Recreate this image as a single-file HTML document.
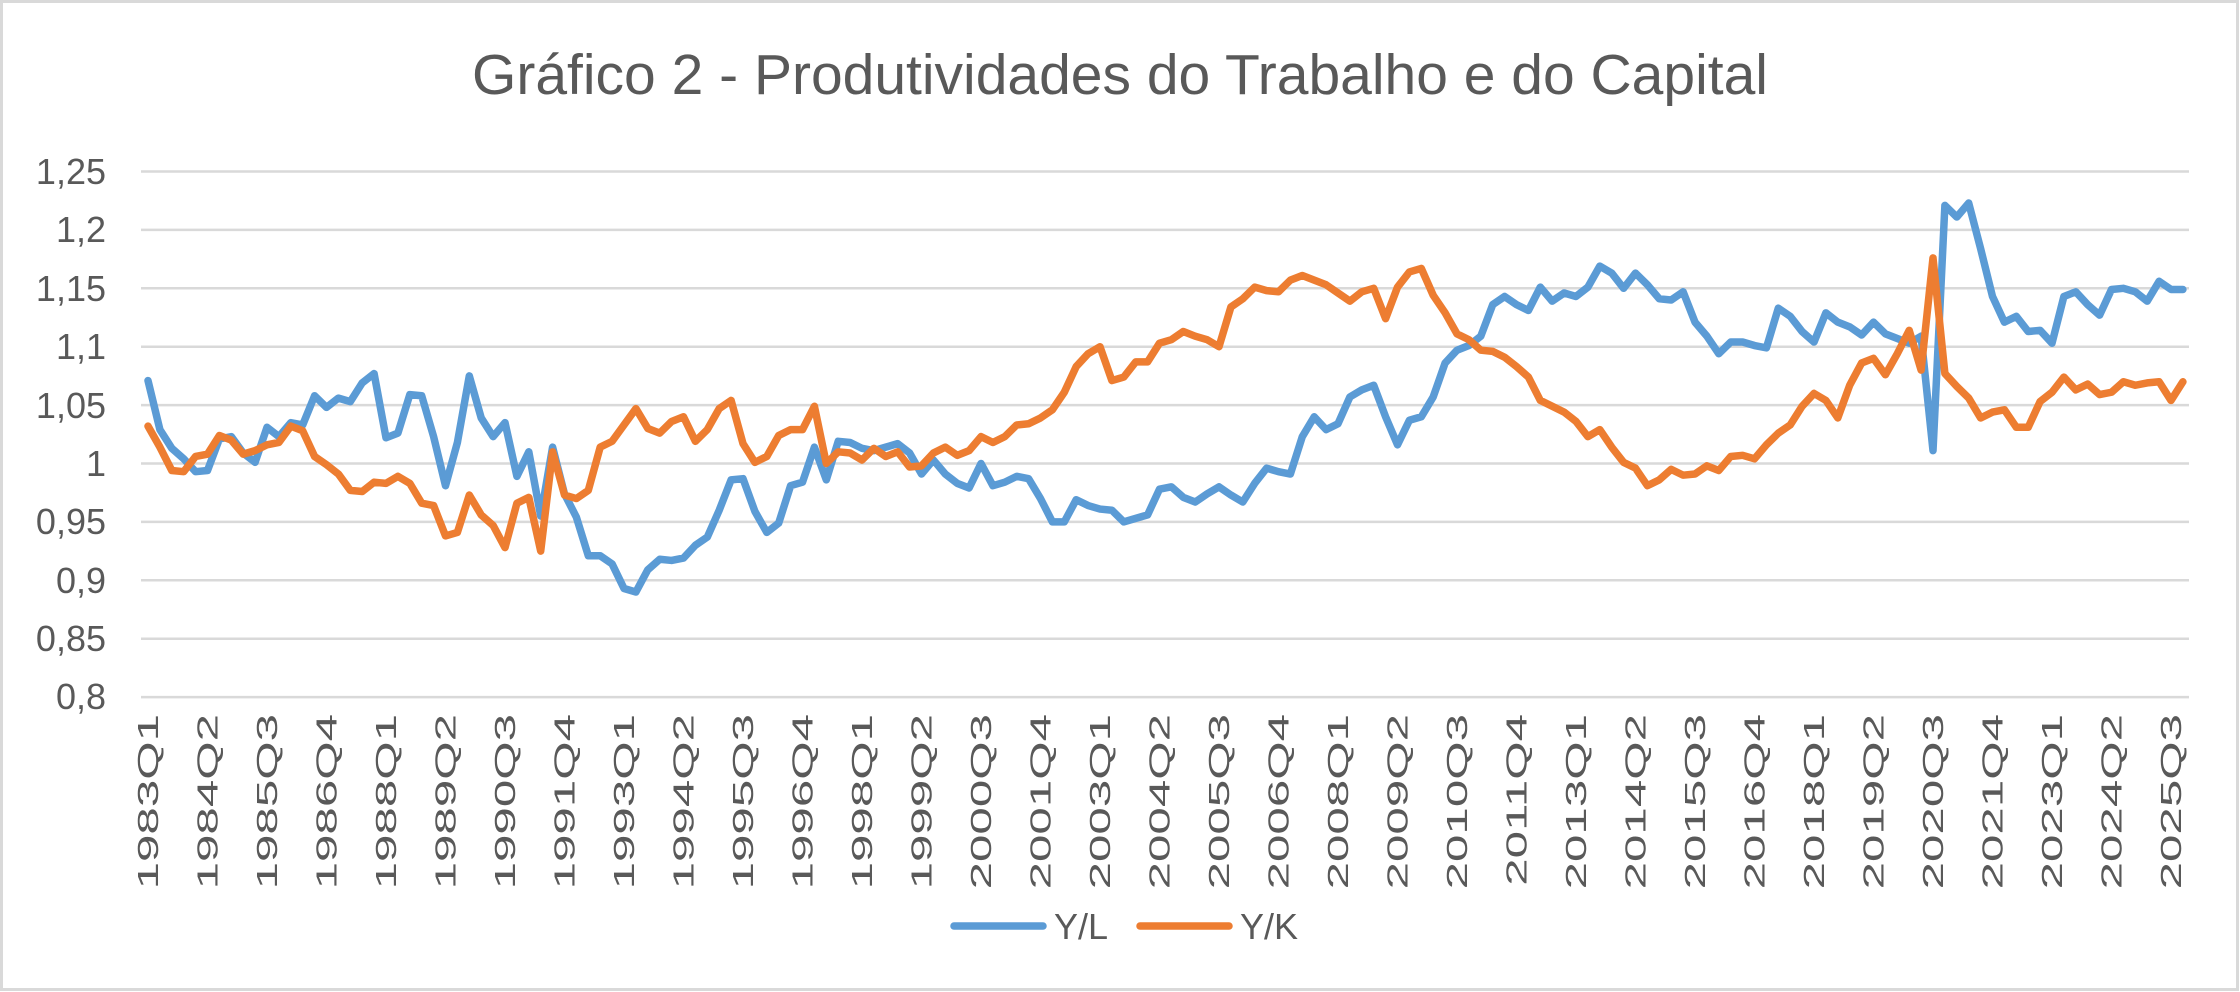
<!DOCTYPE html>
<html><head><meta charset="utf-8"><style>
html,body{margin:0;padding:0;background:#fff}
svg{display:block}
text{font-family:"Liberation Sans",Arial,sans-serif;fill:#595959}
</style></head><body>
<svg width="2240" height="992" viewBox="0 0 2240 992" xmlns="http://www.w3.org/2000/svg">
<rect x="1.5" y="1.5" width="2236" height="988" fill="#fff" stroke="#d9d9d9" stroke-width="3"/>
<text x="1120" y="94" font-size="57" text-anchor="middle">Gráfico 2 - Produtividades do Trabalho e do Capital</text>
<g stroke="#d9d9d9" stroke-width="2.5">
<line x1="141" x2="2189" y1="171.5" y2="171.5"/><line x1="141" x2="2189" y1="229.9" y2="229.9"/>
<line x1="141" x2="2189" y1="288.3" y2="288.3"/><line x1="141" x2="2189" y1="346.7" y2="346.7"/>
<line x1="141" x2="2189" y1="405.1" y2="405.1"/><line x1="141" x2="2189" y1="463.5" y2="463.5"/>
<line x1="141" x2="2189" y1="521.9" y2="521.9"/><line x1="141" x2="2189" y1="580.3" y2="580.3"/>
<line x1="141" x2="2189" y1="638.7" y2="638.7"/><line x1="141" x2="2189" y1="697.1" y2="697.1"/>
</g>
<g font-size="36" text-anchor="end">
<text x="106" y="184">1,25</text><text x="106" y="242">1,2</text><text x="106" y="301">1,15</text>
<text x="106" y="359">1,1</text><text x="106" y="418">1,05</text><text x="106" y="476">1</text>
<text x="106" y="534">0,95</text><text x="106" y="593">0,9</text><text x="106" y="651">0,85</text>
<text x="106" y="709">0,8</text>
</g>
<g font-size="29" text-anchor="end">
<text transform="translate(158,714) rotate(-90) scale(1.7,1)">1983Q1</text>
<text transform="translate(217.5,714) rotate(-90) scale(1.7,1)">1984Q2</text>
<text transform="translate(277,714) rotate(-90) scale(1.7,1)">1985Q3</text>
<text transform="translate(336.5,714) rotate(-90) scale(1.7,1)">1986Q4</text>
<text transform="translate(396,714) rotate(-90) scale(1.7,1)">1988Q1</text>
<text transform="translate(455.5,714) rotate(-90) scale(1.7,1)">1989Q2</text>
<text transform="translate(515,714) rotate(-90) scale(1.7,1)">1990Q3</text>
<text transform="translate(574.5,714) rotate(-90) scale(1.7,1)">1991Q4</text>
<text transform="translate(634,714) rotate(-90) scale(1.7,1)">1993Q1</text>
<text transform="translate(693.5,714) rotate(-90) scale(1.7,1)">1994Q2</text>
<text transform="translate(753,714) rotate(-90) scale(1.7,1)">1995Q3</text>
<text transform="translate(812.5,714) rotate(-90) scale(1.7,1)">1996Q4</text>
<text transform="translate(872,714) rotate(-90) scale(1.7,1)">1998Q1</text>
<text transform="translate(931.5,714) rotate(-90) scale(1.7,1)">1999Q2</text>
<text transform="translate(991,714) rotate(-90) scale(1.7,1)">2000Q3</text>
<text transform="translate(1050.5,714) rotate(-90) scale(1.7,1)">2001Q4</text>
<text transform="translate(1110,714) rotate(-90) scale(1.7,1)">2003Q1</text>
<text transform="translate(1169.5,714) rotate(-90) scale(1.7,1)">2004Q2</text>
<text transform="translate(1229,714) rotate(-90) scale(1.7,1)">2005Q3</text>
<text transform="translate(1288.5,714) rotate(-90) scale(1.7,1)">2006Q4</text>
<text transform="translate(1348,714) rotate(-90) scale(1.7,1)">2008Q1</text>
<text transform="translate(1407.5,714) rotate(-90) scale(1.7,1)">2009Q2</text>
<text transform="translate(1467,714) rotate(-90) scale(1.7,1)">2010Q3</text>
<text transform="translate(1526.5,714) rotate(-90) scale(1.7,1)">2011Q4</text>
<text transform="translate(1586,714) rotate(-90) scale(1.7,1)">2013Q1</text>
<text transform="translate(1645.5,714) rotate(-90) scale(1.7,1)">2014Q2</text>
<text transform="translate(1705,714) rotate(-90) scale(1.7,1)">2015Q3</text>
<text transform="translate(1764.5,714) rotate(-90) scale(1.7,1)">2016Q4</text>
<text transform="translate(1824,714) rotate(-90) scale(1.7,1)">2018Q1</text>
<text transform="translate(1883.5,714) rotate(-90) scale(1.7,1)">2019Q2</text>
<text transform="translate(1943,714) rotate(-90) scale(1.7,1)">2020Q3</text>
<text transform="translate(2002.5,714) rotate(-90) scale(1.7,1)">2021Q4</text>
<text transform="translate(2062,714) rotate(-90) scale(1.7,1)">2023Q1</text>
<text transform="translate(2121.5,714) rotate(-90) scale(1.7,1)">2024Q2</text>
<text transform="translate(2181,714) rotate(-90) scale(1.7,1)">2025Q3</text>
</g>
<g transform="translate(148,1631.5) scale(11.9,-1168)" fill="none" stroke-linejoin="round" stroke-linecap="round">
<polyline vector-effect="non-scaling-stroke" stroke="#5B9BD5" stroke-width="7.5" points="0,1.071 1,1.029 2,1.013 3,1.004 4,0.993 5,0.994 6,1.021 7,1.023 8,1.009 9,1.001 10,1.031 11,1.023 12,1.035 13,1.033 14,1.058 15,1.048 16,1.056 17,1.053 18,1.069 19,1.077 20,1.022 21,1.026 22,1.059 23,1.058 24,1.023 25,0.981 26,1.018 27,1.075 28,1.039 29,1.023 30,1.035 31,0.989 32,1.010 33,0.955 34,1.014 35,0.974 36,0.954 37,0.921 38,0.921 39,0.914 40,0.893 41,0.890 42,0.909 43,0.918 44,0.917 45,0.919 46,0.930 47,0.937 48,0.960 49,0.986 50,0.987 51,0.959 52,0.941 53,0.949 54,0.981 55,0.984 56,1.014 57,0.986 58,1.019 59,1.018 60,1.013 61,1.011 62,1.014 63,1.017 64,1.009 65,0.991 66,1.003 67,0.991 68,0.983 69,0.979 70,1.000 71,0.981 72,0.984 73,0.989 74,0.987 75,0.970 76,0.950 77,0.950 78,0.969 79,0.964 80,0.961 81,0.960 82,0.950 83,0.953 84,0.956 85,0.978 86,0.980 87,0.971 88,0.967 89,0.974 90,0.980 91,0.973 92,0.967 93,0.983 94,0.996 95,0.993 96,0.991 97,1.023 98,1.040 99,1.029 100,1.034 101,1.057 102,1.063 103,1.067 104,1.040 105,1.016 106,1.037 107,1.040 108,1.057 109,1.086 110,1.097 111,1.101 112,1.109 113,1.136 114,1.143 115,1.136 116,1.131 117,1.151 118,1.139 119,1.146 120,1.143 121,1.151 122,1.169 123,1.163 124,1.150 125,1.163 126,1.153 127,1.141 128,1.140 129,1.147 130,1.121 131,1.109 132,1.094 133,1.104 134,1.104 135,1.101 136,1.099 137,1.133 138,1.126 139,1.113 140,1.104 141,1.129 142,1.121 143,1.117 144,1.110 145,1.121 146,1.111 147,1.107 148,1.103 149,1.109 150,1.011 151,1.221 152,1.211 153,1.223 154,1.184 155,1.143 156,1.121 157,1.126 158,1.113 159,1.114 160,1.103 161,1.143 162,1.147 163,1.136 164,1.127 165,1.149 166,1.150 167,1.147 168,1.139 169,1.156 170,1.149 171,1.149"/>
<polyline vector-effect="non-scaling-stroke" stroke="#ED7D31" stroke-width="7.5" points="0,1.032 1,1.014 2,0.994 3,0.993 4,1.006 5,1.008 6,1.024 7,1.020 8,1.008 9,1.011 10,1.016 11,1.018 12,1.032 13,1.028 14,1.006 15,0.999 16,0.991 17,0.977 18,0.976 19,0.984 20,0.983 21,0.989 22,0.983 23,0.966 24,0.964 25,0.938 26,0.941 27,0.973 28,0.956 29,0.947 30,0.928 31,0.966 32,0.971 33,0.925 34,1.010 35,0.973 36,0.970 37,0.977 38,1.014 39,1.019 40,1.033 41,1.047 42,1.030 43,1.026 44,1.036 45,1.040 46,1.019 47,1.029 48,1.047 49,1.054 50,1.017 51,1.001 52,1.006 53,1.024 54,1.029 55,1.029 56,1.049 57,1.000 58,1.010 59,1.009 60,1.003 61,1.013 62,1.006 63,1.010 64,0.997 65,0.998 66,1.009 67,1.014 68,1.007 69,1.011 70,1.023 71,1.018 72,1.023 73,1.033 74,1.034 75,1.039 76,1.046 77,1.061 78,1.083 79,1.094 80,1.100 81,1.071 82,1.074 83,1.087 84,1.087 85,1.103 86,1.106 87,1.113 88,1.109 89,1.106 90,1.100 91,1.134 92,1.141 93,1.151 94,1.148 95,1.147 96,1.157 97,1.161 98,1.157 99,1.153 100,1.146 101,1.139 102,1.147 103,1.150 104,1.124 105,1.151 106,1.164 107,1.167 108,1.144 109,1.129 110,1.111 111,1.106 112,1.097 113,1.096 114,1.091 115,1.083 116,1.074 117,1.054 118,1.049 119,1.044 120,1.036 121,1.023 122,1.029 123,1.014 124,1.001 125,0.996 126,0.981 127,0.986 128,0.995 129,0.990 130,0.991 131,0.998 132,0.994 133,1.006 134,1.007 135,1.004 136,1.016 137,1.026 138,1.033 139,1.049 140,1.060 141,1.054 142,1.039 143,1.067 144,1.086 145,1.090 146,1.076 147,1.094 148,1.114 149,1.080 150,1.176 151,1.077 152,1.066 153,1.056 154,1.039 155,1.044 156,1.046 157,1.031 158,1.031 159,1.053 160,1.061 161,1.074 162,1.063 163,1.068 164,1.059 165,1.061 166,1.070 167,1.067 168,1.069 169,1.070 170,1.054 171,1.070"/>
</g>
<line x1="954" y1="926" x2="1043" y2="926" stroke="#5B9BD5" stroke-width="7.5" stroke-linecap="round"/>
<text x="1054" y="939" font-size="36">Y/L</text>
<line x1="1140" y1="926" x2="1229" y2="926" stroke="#ED7D31" stroke-width="7.5" stroke-linecap="round"/>
<text x="1240" y="939" font-size="36">Y/K</text>
</svg>
</body></html>
